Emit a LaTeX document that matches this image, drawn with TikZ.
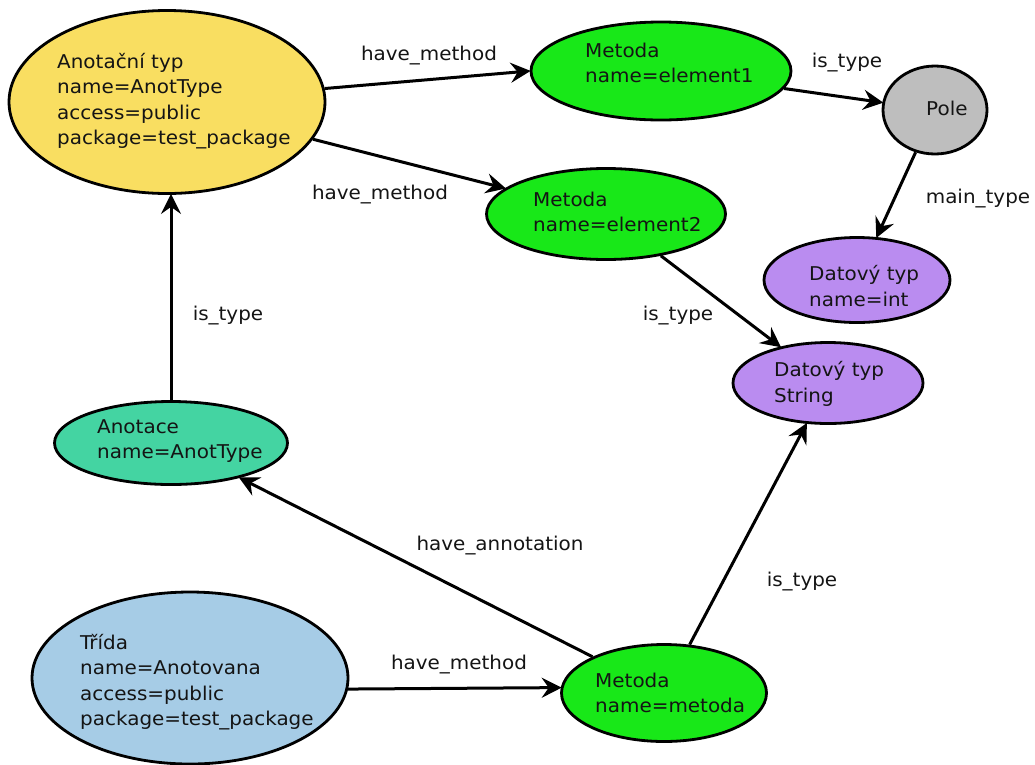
\documentclass[tikz,border=0pt]{standalone}
\usepackage{fontspec}
\setmainfont{DejaVu Sans}[FakeStretch=1.05]
\usetikzlibrary{shapes.geometric,arrows.meta}

\definecolor{cyellow}{RGB}{249,222,97}
\definecolor{cgreen}{RGB}{24,232,24}
\definecolor{cgray}{RGB}{190,190,190}
\definecolor{cpurple}{RGB}{186,140,240}
\definecolor{cteal}{RGB}{68,212,162}
\definecolor{cblue}{RGB}{166,204,230}
\definecolor{ctext}{RGB}{20,20,20}

\begin{document}
\begin{tikzpicture}[x=1pt,y=-1pt,
  every node/.style={font=\fontsize{19}{25.5}\selectfont, text=ctext, inner sep=0pt},
  blob/.style={ellipse, draw=black, line width=2.8pt},
  body/.style={align=left, anchor=west},
  rel/.style={},
  link/.style={draw=black, line width=3pt,
    -{Stealth[length=20pt,width=20pt,inset=7pt]}, shorten >=-1pt}
]
\useasboundingbox (0,0) rectangle (1035,764);

% entity ellipses
\node[blob, fill=cyellow, minimum width=316pt, minimum height=183pt] (yel) at (167,102) {};
\node[blob, fill=cgreen,  minimum width=260pt, minimum height=98pt]  (el1) at (661,71) {};
\node[blob, fill=cgray,   minimum width=104pt, minimum height=88pt]  (pole) at (935,110) {};
\node[blob, fill=cgreen,  minimum width=239pt, minimum height=91pt]  (el2) at (606,214) {};
\node[blob, fill=cpurple, minimum width=186pt, minimum height=85pt]  (int) at (857,280) {};
\node[blob, fill=cpurple, minimum width=190pt, minimum height=81pt]  (str) at (828,383) {};
\node[blob, fill=cteal,   minimum width=233pt, minimum height=83pt]  (anot) at (171,443) {};
\node[blob, fill=cblue,   minimum width=316pt, minimum height=172pt] (tri) at (190,678) {};
\node[blob, fill=cgreen,  minimum width=205pt, minimum height=97pt]  (met) at (664,693) {};

% texts inside the ellipses
\node[body] (tyel)  at (57,101)  {Anotační typ\\name=AnotType\\access=public\\package=test\_package};
\node[body] (tel1)  at (585,63)  {Metoda\\name=element1};
\node[body] (tpole) at (926,108) {Pole};
\node[body] (tel2)  at (533,212) {Metoda\\name=element2};
\node[body] (tint)  at (809,286) {Datový typ\\name=int};
\node[body] (tstr)  at (774,384) {Datový typ\\String};
\node[body] (tanot) at (97,441)  {Anotace\\name=AnotType};
\node[body] (ttri)  at (80,682)  {Třída\\name=Anotovana\\access=public\\package=test\_package};
\node[body] (tmet)  at (595,693) {Metoda\\name=metoda};

% relations
\draw[link] (yel) -- (el1.west);
\draw[link] (yel) -- (el2);
\draw[link] (el1) -- (pole);
\draw[link] (pole) -- (int);
\draw[link] (el2) -- (str);
\draw[link] (anot.north) -- (anot |- yel.south);
\draw[link] (met) -- (anot);
\draw[link] (met) -- (str);
\draw[link] (tri.-4) -- (met.177);

% relation labels
\node[rel] (l1) at (429,56)  {have\_method};
\node[rel] (l2) at (380,195) {have\_method};
\node[rel] (l3) at (847,63)  {is\_type};
\node[rel] (l4) at (978,199) {main\_type};
\node[rel] (l5) at (228,316) {is\_type};
\node[rel] (l6) at (678,316) {is\_type};
\node[rel] (l7) at (500,546) {have\_annotation};
\node[rel] (l8) at (802,582) {is\_type};
\node[rel] (l9) at (459,665) {have\_method};
\end{tikzpicture}
\end{document}
